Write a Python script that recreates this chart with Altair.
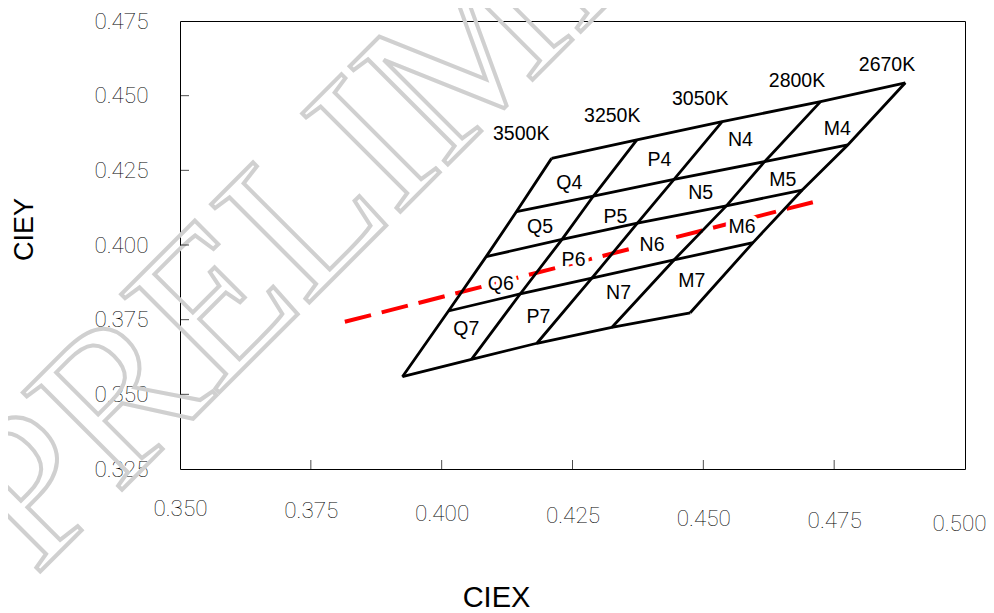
import altair as alt
import pandas as pd

# ---- data ----
cct_names = ["3500K", "3250K", "3050K", "2800K", "2670K"]
# vertices of each isotherm, from top boundary to bottom boundary (5 row lines)
x_3500 = [0.4210, 0.4143, 0.4085, 0.4013, 0.3925]
y_3500 = [0.4290, 0.4112, 0.3961, 0.3779, 0.3559]
x_3250 = [0.4373, 0.4290, 0.4230, 0.4150, 0.4057]
y_3250 = [0.4352, 0.4164, 0.4019, 0.3836, 0.3617]
x_3050 = [0.4536, 0.4444, 0.4374, 0.4287, 0.4182]
y_3050 = [0.4413, 0.4220, 0.4073, 0.3889, 0.3671]
x_2800 = [0.4724, 0.4617, 0.4544, 0.4444, 0.4325]
y_2800 = [0.4480, 0.4279, 0.4131, 0.3950, 0.3724]
x_2670 = [0.4886, 0.4776, 0.4689, 0.4595, 0.4475]
y_2670 = [0.4543, 0.4335, 0.4184, 0.4008, 0.3773]

bin_names = ["Q4", "Q5", "Q6", "Q7", "P4", "P5", "P6", "P7",
             "N4", "N5", "N6", "N7", "M4", "M5", "M6", "M7"]
bin_x = [0.4244, 0.4188, 0.4113, 0.4047, 0.4416, 0.4332, 0.4252, 0.4185,
         0.4571, 0.4495, 0.4402, 0.4338, 0.4756, 0.4652, 0.4574, 0.4478]
bin_y = [0.4209, 0.4059, 0.3869, 0.3718, 0.4285, 0.4093, 0.3950, 0.3758,
         0.4352, 0.4173, 0.4000, 0.3838, 0.4387, 0.4218, 0.4059, 0.3880]

cct_label_x = [0.4152, 0.4326, 0.4494, 0.4679, 0.4851]
cct_label_y = [0.4372, 0.4432, 0.4488, 0.4549, 0.4603]

bbl_x = [0.3815, 0.4729]
bbl_y = [0.3743, 0.4152]

x_ticks = [0.350, 0.375, 0.400, 0.425, 0.450, 0.475, 0.500]
y_ticks = [0.325, 0.350, 0.375, 0.400, 0.425, 0.450, 0.475]

# watermark letters (baseline centres, in data units)
wm_letters = ["P", "R", "E", "L", "I", "M", "I", "N", "A", "R", "Y"]
wm_x = [0.33024, 0.34746, 0.36544, 0.38265, 0.39585, 0.41307, 0.43028,
        0.44520, 0.46548, 0.48499, 0.50450]
wm_y = [0.30290, 0.33304, 0.36451, 0.39464, 0.41775, 0.44788, 0.47801,
        0.50413, 0.53962, 0.57377, 0.60792]

# ---- tables ----
iso_x = [x_3500, x_3250, x_3050, x_2800, x_2670]
iso_y = [y_3500, y_3250, y_3050, y_2800, y_2670]
rows = []
for k, name in enumerate(cct_names):
    for i in range(5):
        rows.append({"line": "iso_" + name, "ord": i, "x": iso_x[k][i], "y": iso_y[k][i]})
for i in range(5):
    for k in range(5):
        rows.append({"line": "row_%d" % i, "ord": k, "x": iso_x[k][i], "y": iso_y[k][i]})
grid_df = pd.DataFrame(rows)

bins_df = pd.DataFrame({"label": bin_names, "x": bin_x, "y": bin_y})
cct_df = pd.DataFrame({"label": cct_names, "x": cct_label_x, "y": cct_label_y})
bbl_df = pd.DataFrame({"x": bbl_x, "y": bbl_y, "o": [0, 1]})
xt_df = pd.DataFrame({"x": x_ticks[1:-1], "y": [y_ticks[0]] * (len(x_ticks) - 2)})
yt_df = pd.DataFrame({"x": [x_ticks[0]] * (len(y_ticks) - 2), "y": y_ticks[1:-1]})
wm_df = pd.DataFrame({"label": wm_letters, "x": wm_x, "y": wm_y})

xscale = alt.Scale(domain=[x_ticks[0], x_ticks[-1]], nice=False, zero=False)
yscale = alt.Scale(domain=[y_ticks[0], y_ticks[-1]], nice=False, zero=False)

xaxis = alt.Axis(values=x_ticks, format=".3f", title="CIEX", ticks=False, domain=False,
                 grid=False, labelFont="Roboto", labelFontWeight=100, labelFontSize=22.5,
                 labelColor="black", labelPadding=alt.ExprRef("28 + 100*(datum.value - 0.35)"),
                 labelOffset=alt.ExprRef("datum.value >= 0.5 ? -6 : 0"),
                 labelFlush=False, labelOverlap=False, labelBound=False,
                 titleFont="Liberation Sans", titleFontWeight="normal", titleFontSize=29,
                 titleColor="black", titleX=316, titleY=128, titleBaseline="middle",
                 titleAlign="center")
yaxis = alt.Axis(values=y_ticks, format=".3f", title="CIEY", ticks=False, domain=False,
                 grid=False, labelFont="Roboto", labelFontWeight=100, labelFontSize=22.5,
                 labelColor="black", labelPadding=32, labelFlush=False, labelOverlap=False,
                 labelBound=False, labelBaseline="middle",
                 titleFont="Liberation Sans", titleFontWeight="normal", titleFontSize=27,
                 titleColor="black", titleAngle=270, titleX=-156, titleY=208,
                 titleBaseline="middle", titleAlign="center")

X = lambda: alt.X("x:Q", scale=xscale, axis=xaxis)
Y = lambda: alt.Y("y:Q", scale=yscale, axis=yaxis)

watermark = alt.Chart(wm_df).mark_text(
    font="Liberation Serif", fontSize=212, angle=315, align="center", baseline="alphabetic",
    fillOpacity=0, stroke="#d0d0d0", strokeWidth=4).encode(
    x=X(), y=Y(), text="label:N")

red = alt.Chart(bbl_df).mark_line(color="#ff0000", strokeWidth=4, strokeDash=[27, 11]).encode(
    x=X(), y=Y(), order="o:O")

halo = alt.Chart(bins_df).mark_text(font="Liberation Sans", fontSize=19.5, color="white",
                                     stroke="white", strokeWidth=8,
                                     align="center", baseline="middle").encode(
    x=X(), y=Y(), text="label:N")

grid = alt.Chart(grid_df).mark_line(color="black", strokeWidth=2.8).encode(
    x=X(), y=Y(), detail="line:N", order="ord:O")

bin_text = alt.Chart(bins_df).mark_text(font="Liberation Sans", fontSize=19.5, color="black",
                                         align="center", baseline="middle").encode(
    x=X(), y=Y(), text="label:N")

cct_text = alt.Chart(cct_df).mark_text(font="Liberation Sans", fontSize=19.5, color="black",
                                        align="center", baseline="middle").encode(
    x=X(), y=Y(), text="label:N")

xticks = alt.Chart(xt_df).mark_tick(orient="vertical", size=9, thickness=1, color="black",
                                    yOffset=-4.5).encode(x=X(), y=Y())
yticks = alt.Chart(yt_df).mark_tick(orient="horizontal", size=9, thickness=1, color="black",
                                    xOffset=4.5).encode(x=X(), y=Y())

chart = alt.layer(watermark, xticks, yticks, red, halo, grid, bin_text, cct_text).properties(
    width=785, height=448,
    autosize=alt.AutoSizeParams(type="none"),
    padding={"left": 172, "top": 13, "right": 21, "bottom": 144},
    background="white",
).configure_view(stroke="black", strokeWidth=1)

chart.save("out.html", embed_options={"renderer": "svg", "actions": False})
